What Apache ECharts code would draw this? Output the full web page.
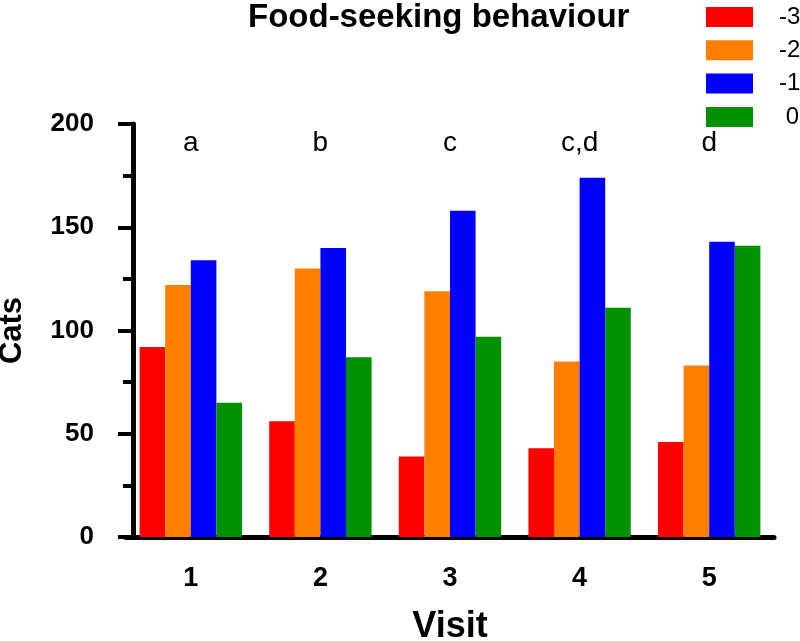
<!DOCTYPE html>
<html>
<head>
<meta charset="utf-8">
<script src="https://cdn.jsdelivr.net/npm/echarts@6/dist/echarts.min.js"></script>
<style>
html,body{margin:0;padding:0;background:#fff;}
#chart{width:800px;height:641px;}
</style>
</head>
<body>
<div id="chart"></div>
<script>
var visits = ['1', '2', '3', '4', '5'];
var groupLetters = ['a', 'b', 'c', 'c,d', 'd'];
var seriesNames = ['-3', '-2', '-1', ' 0'];
var seriesColors = ['#FF0000', '#FF8000', '#0000FF', '#009100'];
var valsM3 = [92, 56, 39, 43, 46];
var valsM2 = [122, 130, 119, 85, 83];
var valsM1 = [134, 140, 158, 174, 143];
var vals0 = [65, 87, 97, 111, 141];
var allVals = [valsM3, valsM2, valsM1, vals0];
var yTicks = {min: 0, max: 200, interval: 50};

var FONT = '"Liberation Sans", Arial, Helvetica, sans-serif';
var chart = echarts.init(document.getElementById('chart'), null, {renderer: 'canvas'});

var series = seriesNames.map(function (name, i) {
  return {
    name: name,
    type: 'bar',
    data: allVals[i],
    xAxisIndex: 0,
    barGap: '0%',
    barCategoryGap: '21%',
    itemStyle: {color: seriesColors[i]},
    emphasis: {disabled: true}
  };
});

chart.setOption({
  animation: false,
  backgroundColor: '#ffffff',
  title: {
    text: 'Food-seeking behaviour',
    left: 243,
    top: -4,
    textStyle: {fontFamily: FONT, fontWeight: 'bold', fontSize: 33, color: '#000'}
  },
  legend: {
    orient: 'vertical',
    left: 701,
    top: 0,
    itemWidth: 47,
    itemHeight: 20,
    itemGap: 9.3,
    icon: 'rect',
    data: seriesNames,
    textStyle: {fontFamily: FONT, fontSize: 24, color: '#000', lineHeight: 20, padding: [0, 0, 0, 21]}
  },
  grid: {left: 126, right: 26, top: 124, bottom: 104, containLabel: false, outerBoundsMode: 'none'},
  xAxis: [{
    type: 'category',
    data: visits,
    position: 'bottom',
    axisLine: {show: true, lineStyle: {color: '#000', width: 5}},
    axisTick: {show: false},
    axisLabel: {fontFamily: FONT, fontWeight: 'bold', fontSize: 27, color: '#000', margin: 28},
    name: 'Visit',
    nameLocation: 'middle',
    nameGap: 72,
    nameTextStyle: {fontFamily: FONT, fontWeight: 'bold', fontSize: 36, color: '#000'}
  }, {
    type: 'category',
    data: groupLetters,
    position: 'top',
    axisLine: {show: false},
    axisTick: {show: false},
    axisLabel: {inside: true, fontFamily: FONT, fontSize: 28, color: '#000', margin: 5}
  }],
  yAxis: {
    type: 'value',
    min: yTicks.min,
    max: yTicks.max,
    interval: yTicks.interval,
    offset: -7,
    axisLine: {show: true, lineStyle: {color: '#000', width: 5}},
    axisTick: {show: true, length: 15, lineStyle: {color: '#000', width: 4}},
    minorTick: {show: true, splitNumber: 2, length: 10, lineStyle: {color: '#000', width: 4}},
    splitLine: {show: false},
    axisLabel: {fontFamily: FONT, fontWeight: 'bold', fontSize: 26, color: '#000', margin: 39},
    name: 'Cats',
    nameLocation: 'middle',
    nameGap: 105,
    nameTextStyle: {fontFamily: FONT, fontWeight: 'bold', fontSize: 31, color: '#000'}
  },
  series: series
});
</script>
</body>
</html>
